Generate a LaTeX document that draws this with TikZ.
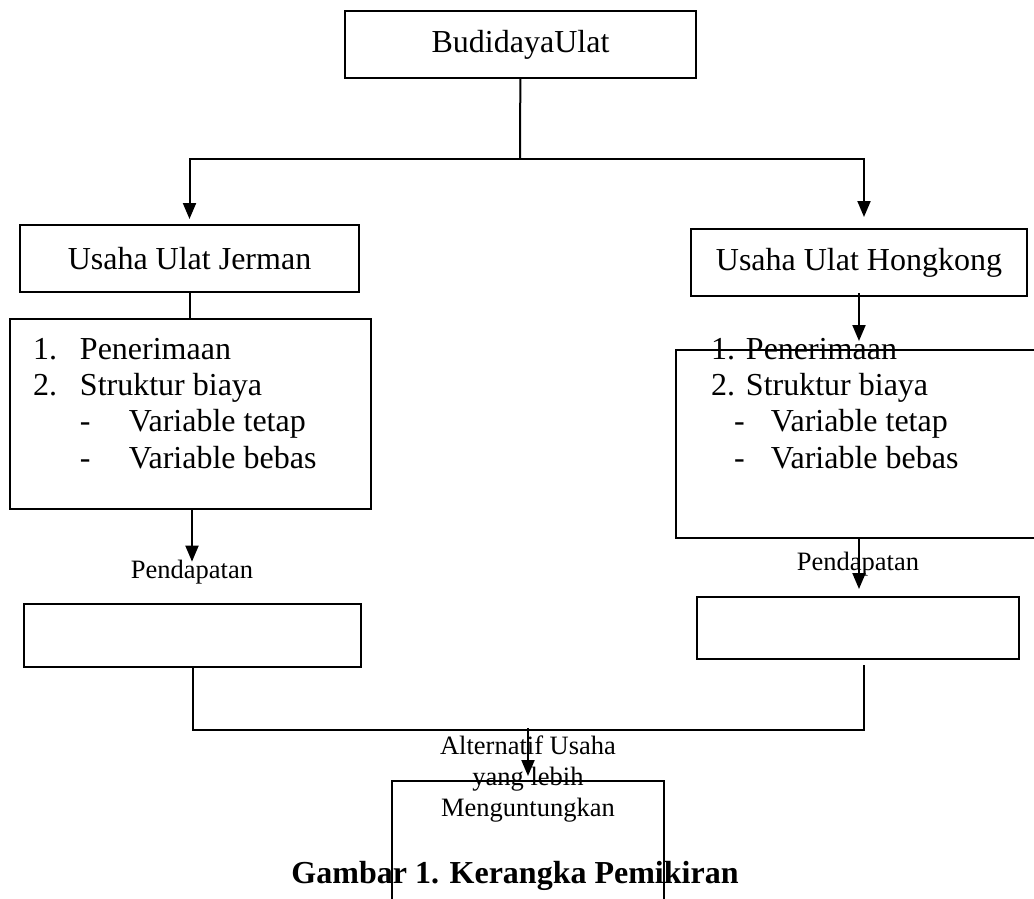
\documentclass[tikz,border=0pt]{standalone}
\usepackage{fontspec}
\setmainfont{Liberation Serif}
\usetikzlibrary{arrows.meta}

\begin{document}
\begin{tikzpicture}[x=1pt, y=-1pt, line width=2pt,
    main/.style = {draw, rectangle, inner sep=0pt, font=\fontsize{32}{36.3}\selectfont},
    items/.style = {align=left, inner sep=0pt, anchor=north west, font=\fontsize{32}{36.3}\selectfont},
    note/.style = {inner sep=0pt, font=\fontsize{26.5}{31}\selectfont},
    arw/.style = {-{Triangle[length=16pt, width=13pt]}}]
    \useasboundingbox (0,0) rectangle (1034,898);
    \clip (0,0) rectangle (1034,898);
    % boxes
    \node[main, minimum width=351pt, minimum height=67pt] (1) at (520.5,44.5) {BudidayaUlat};
    \node[main, minimum width=339pt, minimum height=67pt] (2) at (189.5,258.5) {Usaha Ulat Jerman};
    \node[main, minimum width=336pt, minimum height=67pt] (3) at (859,262.5) {Usaha Ulat Hongkong};
    \node[main, minimum width=361pt, minimum height=190pt] (4) at (190.5,414) {};
    \node[main, minimum width=390pt, minimum height=188pt] (5) at (871,444) {};
    \node[main, minimum width=337pt, minimum height=63pt] (6) at (192.5,635.5) {};
    \node[main, minimum width=322pt, minimum height=62pt] (7) at (858,628) {};
    \node[main, minimum width=272pt, minimum height=160pt] (8) at (528,861) {};
    % texts
    \node[items] (t4) at (32,337) {\makebox[47pt][l]{1.}Penerimaan\\
        \makebox[47pt][l]{2.}Struktur biaya\\
        \hspace*{47pt}\makebox[49pt][l]{-}Variable tetap\\
        \hspace*{47pt}\makebox[49pt][l]{-}Variable bebas};
    \node[items] (t5) at (710,337) {\makebox[35pt][l]{1.}Penerimaan\\
        \makebox[35pt][l]{2.}Struktur biaya\\
        \hspace*{23pt}\makebox[37pt][l]{-}Variable tetap\\
        \hspace*{23pt}\makebox[37pt][l]{-}Variable bebas};
    \node[note, anchor=base] (p6) at (192,578) {Pendapatan};
    \node[note, anchor=base] (p7) at (858,570) {Pendapatan};
    % connectors
    \coordinate (s) at (520,159);
    \draw (1) -- (s);
    \draw[arw, shorten >=5pt] (s) -| (2.north);
    \draw[arw, shorten >=11pt] (s) -| ([xshift=5pt]3.north);
    \draw (2.south) -- (2.south |- 4.north);
    \draw[arw, shorten >=-3pt] (4.south -| p6.north) -- (p6.north);
    \draw[arw, shorten <=-4pt, shorten >=8pt] (3.south) -- (3.south |- 5.north);
    \draw[arw, shorten >=7pt] (5.south -| 3.south) -- (7.north -| 3.south);
    \coordinate (j) at (528,730);
    \draw[shorten >=5pt] (6.south) |- (j) -| ([xshift=6pt]7.south);
    \draw[arw, shorten <=-2pt, shorten >=4pt] (j) -- (8.north);
    \node[note, anchor=north, align=center] (t8) at (528,735) {Alternatif Usaha\\yang lebih\\Menguntungkan};
    \node[anchor=base, font=\fontsize{32}{36}\selectfont\bfseries] (cap) at (515,883) {Gambar 1. Kerangka Pemikiran};
\end{tikzpicture}
\end{document}
